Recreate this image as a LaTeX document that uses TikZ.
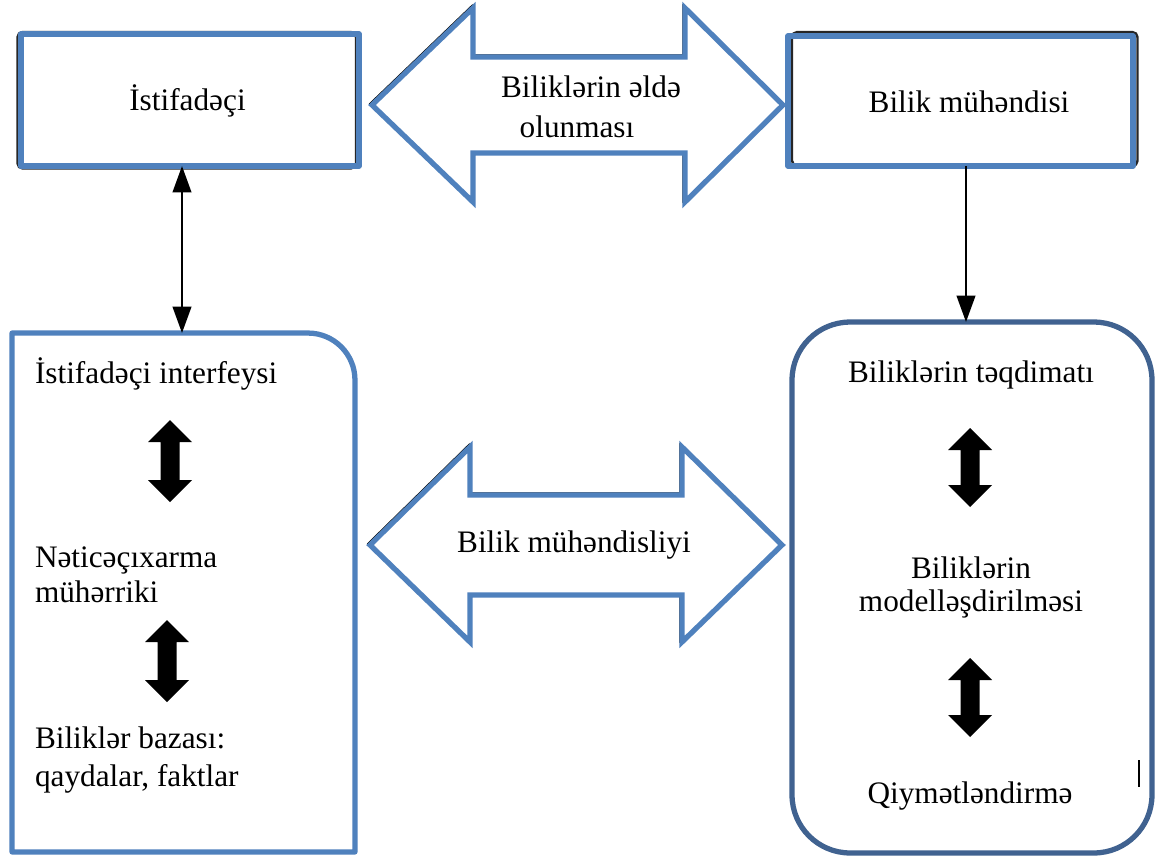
\documentclass[tikz,border=0pt]{standalone}
\usepackage{fontspec}
\setmainfont{Liberation Serif}
\usetikzlibrary{arrows.meta,calc}
\definecolor{boxblue}{RGB}{79,129,189}
\definecolor{deepblue}{RGB}{64,98,144}
\tikzset{ktip/.tip={Triangle[length=15pt,width=10.5pt]}}
% filled black double-headed block arrow: x, top tip, bottom tip
\newcommand\blockarr[3]{\fill[black] (#1,#2) -- ({#1+22},{#2+22}) -- ({#1+9.5},{#2+22}) -- ({#1+9.5},{#3-22}) -- ({#1+22},{#3-22}) -- (#1,#3) -- ({#1-22},{#3-22}) -- ({#1-9.5},{#3-22}) -- ({#1-9.5},{#2+22}) -- ({#1-22},{#2+22}) -- cycle;}
\begin{document}
\begin{tikzpicture}[x=0.02cm,y=-0.02cm,
  every node/.style={font=\fontsize{17.8pt}{21pt}\selectfont, inner sep=0pt, outer sep=0pt},
  txt/.style={anchor=base},
  ltxt/.style={anchor=base west},
  bluebox/.style={draw=boxblue, line width=3pt, line join=round},
  shade/.style={draw=black!85, line width=1.4pt, rounded corners=3pt},
  bigarrow/.style={draw=boxblue, fill=white, line width=3pt, line join=miter},
  bigshade/.style={draw=black, line width=1.2pt},
  link/.style={draw=black, line width=1.5pt}]
\useasboundingbox[fill=white] (0,0) rectangle (1160,859);

% top boxes with their dark shadow edge
\draw[shade] (17.5,32) rectangle (356,168.5);
\node[bluebox, minimum width=6.76cm, minimum height=2.64cm] (u) at (190,100) {};
\draw[shade] (792,32) rectangle (1137.5,166);
\node[bluebox, minimum width=6.9cm, minimum height=2.6cm] (b) at (960.5,101) {};
\node[txt] (tu) at (187.5,110) {İstifadəçi};
\node[txt] (tb) at (969,112) {Bilik mühəndisi};

% upper wide double arrow
\draw[bigshade, shift={(-1.5,-1.5)}] (372,105) -- (473,8) -- (473,57) -- (685,57) -- (685,8) -- (783,105) -- (685,202) -- (685,153) -- (473,153) -- (473,202) -- cycle;
\draw[bigarrow] (372,105) -- (473,8) -- (473,57) -- (685,57) -- (685,8) -- (783,105) -- (685,202) -- (685,153) -- (473,153) -- (473,202) -- cycle;
\node[txt] (ta1) at (591,97) {Biliklərin əldə};
\node[txt] (ta2) at (577,137) {olunması};

% lower wide double arrow
\draw[bigshade, shift={(-1.5,-1.5)}] (370,545) -- (470,447) -- (470,495) -- (682,495) -- (682,447) -- (782,545) -- (682,642) -- (682,595) -- (470,595) -- (470,642) -- cycle;
\draw[bigarrow] (370,545) -- (470,447) -- (470,495) -- (682,495) -- (682,447) -- (782,545) -- (682,642) -- (682,595) -- (470,595) -- (470,642) -- cycle;
\node[txt] (tm) at (574,552) {Bilik mühəndisliyi};

% left lower box: one rounded corner
\node[minimum width=6.86cm, minimum height=10.38cm] (kb) at (183.5,592.5) {};
\draw[draw=black, line width=1.3pt, shift={(3,-3)}] ($(kb.north east)+(-47,0)$) .. controls ($(kb.north east)+(-21,0)$) and ($(kb.north east)+(0,21)$) .. ($(kb.north east)+(0,47)$);
\draw[bluebox] (kb.south west) -- (kb.north west) -- ($(kb.north east)+(-47,0)$) .. controls ($(kb.north east)+(-21,0)$) and ($(kb.north east)+(0,21)$) .. ($(kb.north east)+(0,47)$) -- (kb.south east) -- cycle;
\node[ltxt] (k1) at (35,383) {İstifadəçi interfeysi};
\node[ltxt] (k2) at (35,567) {Nəticəçıxarma};
\node[ltxt] (k3) at (35,602) {mühərriki};
\node[ltxt] (k4) at (35,748) {Biliklər bazası:};
\node[ltxt] (k5) at (35,786) {qaydalar, faktlar};
\blockarr{170}{420}{502}
\blockarr{167}{620}{702}

% right lower box
\node[draw=deepblue, line width=3pt, rounded corners=1.16cm, minimum width=7.2cm, minimum height=10.62cm] (rb) at (972,587.5) {};
\node[txt] (r1) at (971,382) {Biliklərin təqdimatı};
\node[txt] (r2) at (971,578) {Biliklərin};
\node[txt] (r3) at (971,611) {modelləşdirilməsi};
\node[txt] (r4) at (970,803) {Qiymətləndirmə};
\blockarr{970}{428}{507}
\blockarr{970}{658}{737}
\draw[line width=0.7pt] (1139,760) -- (1139,787);

% thin connectors between the boxes
\coordinate (c1) at (182,0);
\coordinate (c2) at (966,0);
\draw[link, ktip-ktip] (c1 |- u.south) -- (c1 |- kb.north);
\draw[link, -ktip] (c2 |- b.south) -- (c2 |- rb.north);
\end{tikzpicture}
\end{document}
